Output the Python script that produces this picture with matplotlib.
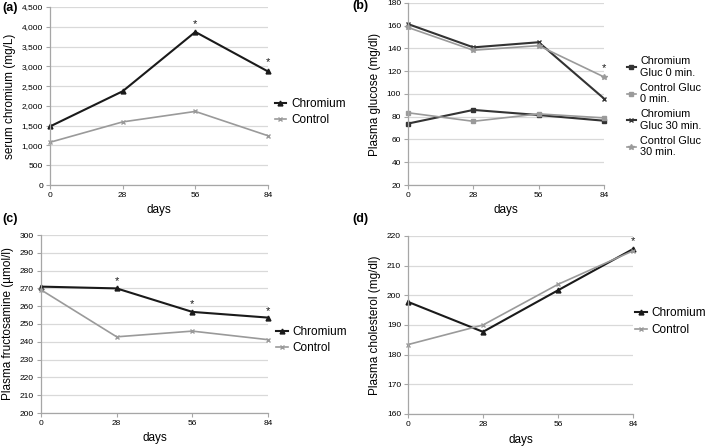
import matplotlib
matplotlib.use("Agg")
import matplotlib.pyplot as plt

plt.rcParams['font.family'] = ['Liberation Sans', 'DejaVu Sans']

days = [0, 28, 56, 84]

# (a) serum chromium
a_chromium = [1480, 2370, 3870, 2870]
a_control = [1080, 1595, 1860, 1245]
a_star_x = [56, 84]
a_star_y = [4080, 3100]

# (b) plasma glucose
b_chr_0 = [74, 86, 81.5, 76.5]
b_con_0 = [83.5, 76, 82.5, 79]
b_chr_30 = [161.5, 141, 145.5, 96]
b_con_30 = [158.5, 138.5, 142.5, 115]
b_star_x = [84]
b_star_y = [123]

# (c) plasma fructosamine
c_chromium = [271, 270, 256.8, 253.6]
c_control = [269.2, 242.8, 246, 241.2]
c_star_x = [28, 56, 84]
c_star_y = [274, 261, 257]

# (d) plasma cholesterol
d_chromium = [197.8, 187.7, 201.7, 215.6]
d_control = [183.4, 190, 203.7, 215]
d_star_x = [84]
d_star_y = [218.3]

DARK = '#1a1a1a'
DARK2 = '#333333'
GRAY = '#9a9a9a'
GRID = '#d9d9d9'
SPINE = '#a6a6a6'

fig = plt.figure(figsize=(7.09, 4.46), dpi=100)

def px_axes(l, t, r, b):
    W, H = 709, 446
    return fig.add_axes([l / W, 1 - b / H, (r - l) / W, (b - t) / H])

def style(ax, ylim, yticks, ylabel, fmt=None):
    ax.set_xlim(0, 84)
    ax.set_ylim(*ylim)
    ax.set_xticks(days)
    ax.set_xticklabels([str(d) for d in days])
    ax.set_yticks(yticks)
    if fmt:
        ax.set_yticklabels([fmt(v) for v in yticks])
    ax.yaxis.grid(True, color=GRID, linewidth=0.9)
    ax.set_axisbelow(True)
    for s in ['top', 'right']:
        ax.spines[s].set_visible(False)
    for s in ['left', 'bottom']:
        ax.spines[s].set_color(SPINE)
        ax.spines[s].set_linewidth(0.9)
    ax.tick_params(axis='both', labelsize=6, color=SPINE, length=3, width=0.8, pad=2)
    ax.set_ylabel(ylabel, fontsize=8.5, labelpad=4)
    ax.set_xlabel('days', fontsize=8.5, labelpad=4)

def stars(ax, xs, ys):
    for x, y in zip(xs, ys):
        ax.text(x, y, '*', ha='center', va='center', fontsize=8, color=DARK)

LEG = dict(frameon=False, handlelength=1.0, handletextpad=0.4,
           borderaxespad=0, borderpad=0)

# (a)
ax = px_axes(50, 7, 268, 185)
ax.plot(days, a_chromium, color=DARK, lw=1.5, marker='^', ms=3.5, label='Chromium', clip_on=False)
ax.plot(days, a_control, color=GRAY, lw=1.2, marker='x', ms=3.5, label='Control', clip_on=False)
style(ax, (0, 4500), list(range(0, 4501, 500)), 'serum chromium (mg/L)', fmt=lambda v: f'{v:,}')
stars(ax, a_star_x, a_star_y)
ax.legend(loc='center left', bbox_to_anchor=(1.03, 0.41), labelspacing=0.4, fontsize=8.5, **LEG)

# (b)
ax = px_axes(408, 3, 604, 185)
ax.plot(days, b_chr_0, color=DARK2, lw=1.5, marker='s', ms=2.5, label='Chromium\nGluc 0 min.', clip_on=False)
ax.plot(days, b_con_0, color=GRAY, lw=1.2, marker='s', ms=2.5, label='Control Gluc\n0 min.', clip_on=False)
ax.plot(days, b_chr_30, color=DARK2, lw=1.5, marker='x', ms=3.5, label='Chromium\nGluc 30 min.', clip_on=False)
ax.plot(days, b_con_30, color=GRAY, lw=1.2, marker='*', ms=4, label='Control Gluc\n30 min.', clip_on=False)
style(ax, (20, 180), list(range(20, 181, 20)), 'Plasma glucose (mg/dl)')
stars(ax, b_star_x, b_star_y)
ax.legend(loc='center left', bbox_to_anchor=(1.115, 0.43), labelspacing=0.45, fontsize=7.8,
          frameon=False, handlelength=0.9, handletextpad=0.35, borderaxespad=0, borderpad=0)

# (c)
ax = px_axes(41, 235, 268, 413)
ax.plot(days, c_chromium, color=DARK, lw=1.5, marker='^', ms=3.5, label='Chromium', clip_on=False)
ax.plot(days, c_control, color=GRAY, lw=1.2, marker='x', ms=3.5, label='Control', clip_on=False)
style(ax, (200, 300), list(range(200, 301, 10)), 'Plasma fructosamine (µmol/l)')
stars(ax, c_star_x, c_star_y)
ax.legend(loc='center left', bbox_to_anchor=(1.035, 0.41), labelspacing=0.4, fontsize=8.5, **LEG)

# (d)
ax = px_axes(408, 236, 633, 414)
ax.plot(days, d_chromium, color=DARK, lw=1.5, marker='^', ms=3.5, label='Chromium', clip_on=False)
ax.plot(days, d_control, color=GRAY, lw=1.2, marker='x', ms=3.5, label='Control', clip_on=False)
style(ax, (160, 220), list(range(160, 221, 10)), 'Plasma cholesterol (mg/dl)')
stars(ax, d_star_x, d_star_y)
ax.legend(loc='center left', bbox_to_anchor=(1.01, 0.52), labelspacing=0.4, fontsize=8.5, **LEG)

# panel letters
for txt, x, y in [('(a)', 2, 8), ('(b)', 352, 6), ('(c)', 2, 219), ('(d)', 352, 219)]:
    fig.text(x / 709, 1 - y / 446, txt, fontsize=9, fontweight='bold', ha='left', va='center')

fig.savefig('out.png', dpi=100)
